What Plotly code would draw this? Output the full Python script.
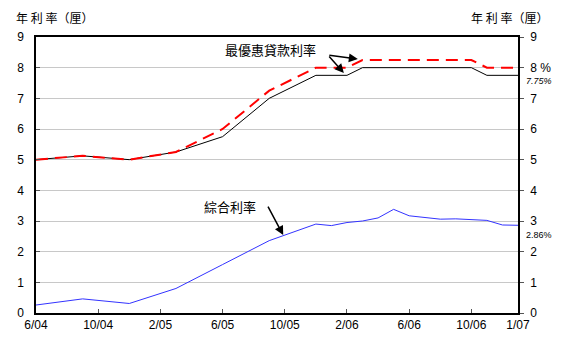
import plotly.graph_objects as go

# month index: 0 = 6/04 ... 31 = 1/07
tick_pos = [0, 4, 8, 12, 16, 20, 24, 28, 31]
tick_labels = ["6/04", "10/04", "2/05", "6/05", "10/05", "2/06", "6/06", "10/06", "1/07"]

prime_low_x = [0, 3, 6, 9, 12, 15, 18, 20, 21, 28, 29, 31]
prime_low_y = [5.0, 5.125, 5.0, 5.25, 5.75, 7.0, 7.75, 7.75, 8.0, 8.0, 7.75, 7.75]

prime_high_x = [0, 3, 6, 9, 12, 15, 18, 20, 21, 28, 29, 31]
prime_high_y = [5.0, 5.125, 5.0, 5.25, 6.0, 7.25, 8.0, 8.0, 8.25, 8.25, 8.0, 8.0]

comp_x = [0, 3, 6, 9, 12, 15, 18, 19, 20, 21, 22, 23, 24, 25, 26, 27, 28, 29, 30, 31]
comp_y = [0.26, 0.46, 0.31, 0.80, 1.58, 2.36, 2.90, 2.85, 2.95, 3.00, 3.10, 3.38, 3.17,
          3.12, 3.06, 3.07, 3.04, 3.02, 2.87, 2.86]

y_ticks = list(range(0, 10))
right_labels = ["0", "1", "2", "3", "4", "5", "6", "7", "8 %", "9"]

font = "Liberation Sans, Noto Sans CJK TC, sans-serif"
cjk = "Noto Sans CJK TC, sans-serif"

fig = go.Figure()
fig.add_trace(go.Scatter(x=prime_low_x, y=prime_low_y, mode="lines",
                         line=dict(color="black", width=1), showlegend=False))
fig.add_trace(go.Scatter(x=prime_high_x, y=prime_high_y, mode="lines",
                         line=dict(color="#ff0000", width=2, dash="12px,7px"), showlegend=False))
fig.add_trace(go.Scatter(x=comp_x, y=comp_y, mode="lines",
                         line=dict(color="#3333ff", width=1), showlegend=False))
fig.add_trace(go.Scatter(x=[], y=[], yaxis="y2", showlegend=False))

fig.update_layout(
    width=571, height=347,
    margin=dict(l=36, r=53, t=37, b=34),
    plot_bgcolor="white", paper_bgcolor="white",
    font=dict(family=font, size=12, color="black"),
    xaxis=dict(range=[0, 31], tickvals=tick_pos, ticktext=tick_labels,
               showgrid=False, showline=True, linecolor="black", linewidth=1.5,
               mirror=True, ticks="inside", ticklen=4, tickcolor="#555",
               zeroline=False, tickfont=dict(size=12)),
    yaxis=dict(range=[0, 9], tickvals=y_ticks, showgrid=True, gridcolor="#c8c8c8",
               gridwidth=1, showline=True, linecolor="black", linewidth=1.5,
               ticks="inside", ticklen=4, tickcolor="#555", zeroline=False,
               ticklabelstandoff=8, tickfont=dict(size=12)),
    yaxis2=dict(range=[0, 9], tickvals=y_ticks, ticktext=right_labels,
                overlaying="y", side="right", showgrid=False, showline=True,
                linecolor="black", linewidth=1.5, ticks="outside", ticklen=4,
                tickcolor="#555", zeroline=False, tickfont=dict(size=12),
                ticklabelstandoff=4),
)

fig.add_annotation(text="年 利 率（厘）", xref="paper", yref="paper", x=-0.046, y=1.072,
                   xanchor="left", yanchor="middle", showarrow=False,
                   font=dict(family=cjk, size=12))
fig.add_annotation(text="年 利 率（厘）", xref="paper", yref="paper", x=1.066, y=1.072,
                   xanchor="right", yanchor="middle", showarrow=False,
                   font=dict(family=cjk, size=12))
fig.add_annotation(text="<i>7.75%</i>", x=31, y=7.55, xref="x", yref="y", xanchor="left",
                   xshift=6, showarrow=False, font=dict(size=9, family=font))
fig.add_annotation(text="2.86%", x=31, y=2.55, xref="x", yref="y", xanchor="left",
                   xshift=6, showarrow=False, font=dict(size=9, family=font))
fig.add_annotation(text="最優惠貸款利率", x=15.1, y=8.58, xref="x", yref="y",
                   showarrow=False, font=dict(family=cjk, size=13))
fig.add_annotation(text="", x=20.7, y=8.28, xref="x", yref="y", ax=-30, ay=-4,
                   showarrow=True, arrowhead=2, arrowsize=1.2, arrowwidth=1.5, arrowcolor="black")
fig.add_annotation(text="", x=19.8, y=7.83, xref="x", yref="y", ax=-16, ay=-18,
                   showarrow=True, arrowhead=2, arrowsize=1.2, arrowwidth=1.5, arrowcolor="black")
fig.add_annotation(text="綜合利率", x=12.5, y=3.46, xref="x", yref="y",
                   showarrow=False, font=dict(family=cjk, size=13))
fig.add_annotation(text="", x=15.9, y=2.54, xref="x", yref="y", ax=-16, ay=-30,
                   showarrow=True, arrowhead=2, arrowsize=1.2, arrowwidth=1.5, arrowcolor="black")

fig.write_html("out.html")
